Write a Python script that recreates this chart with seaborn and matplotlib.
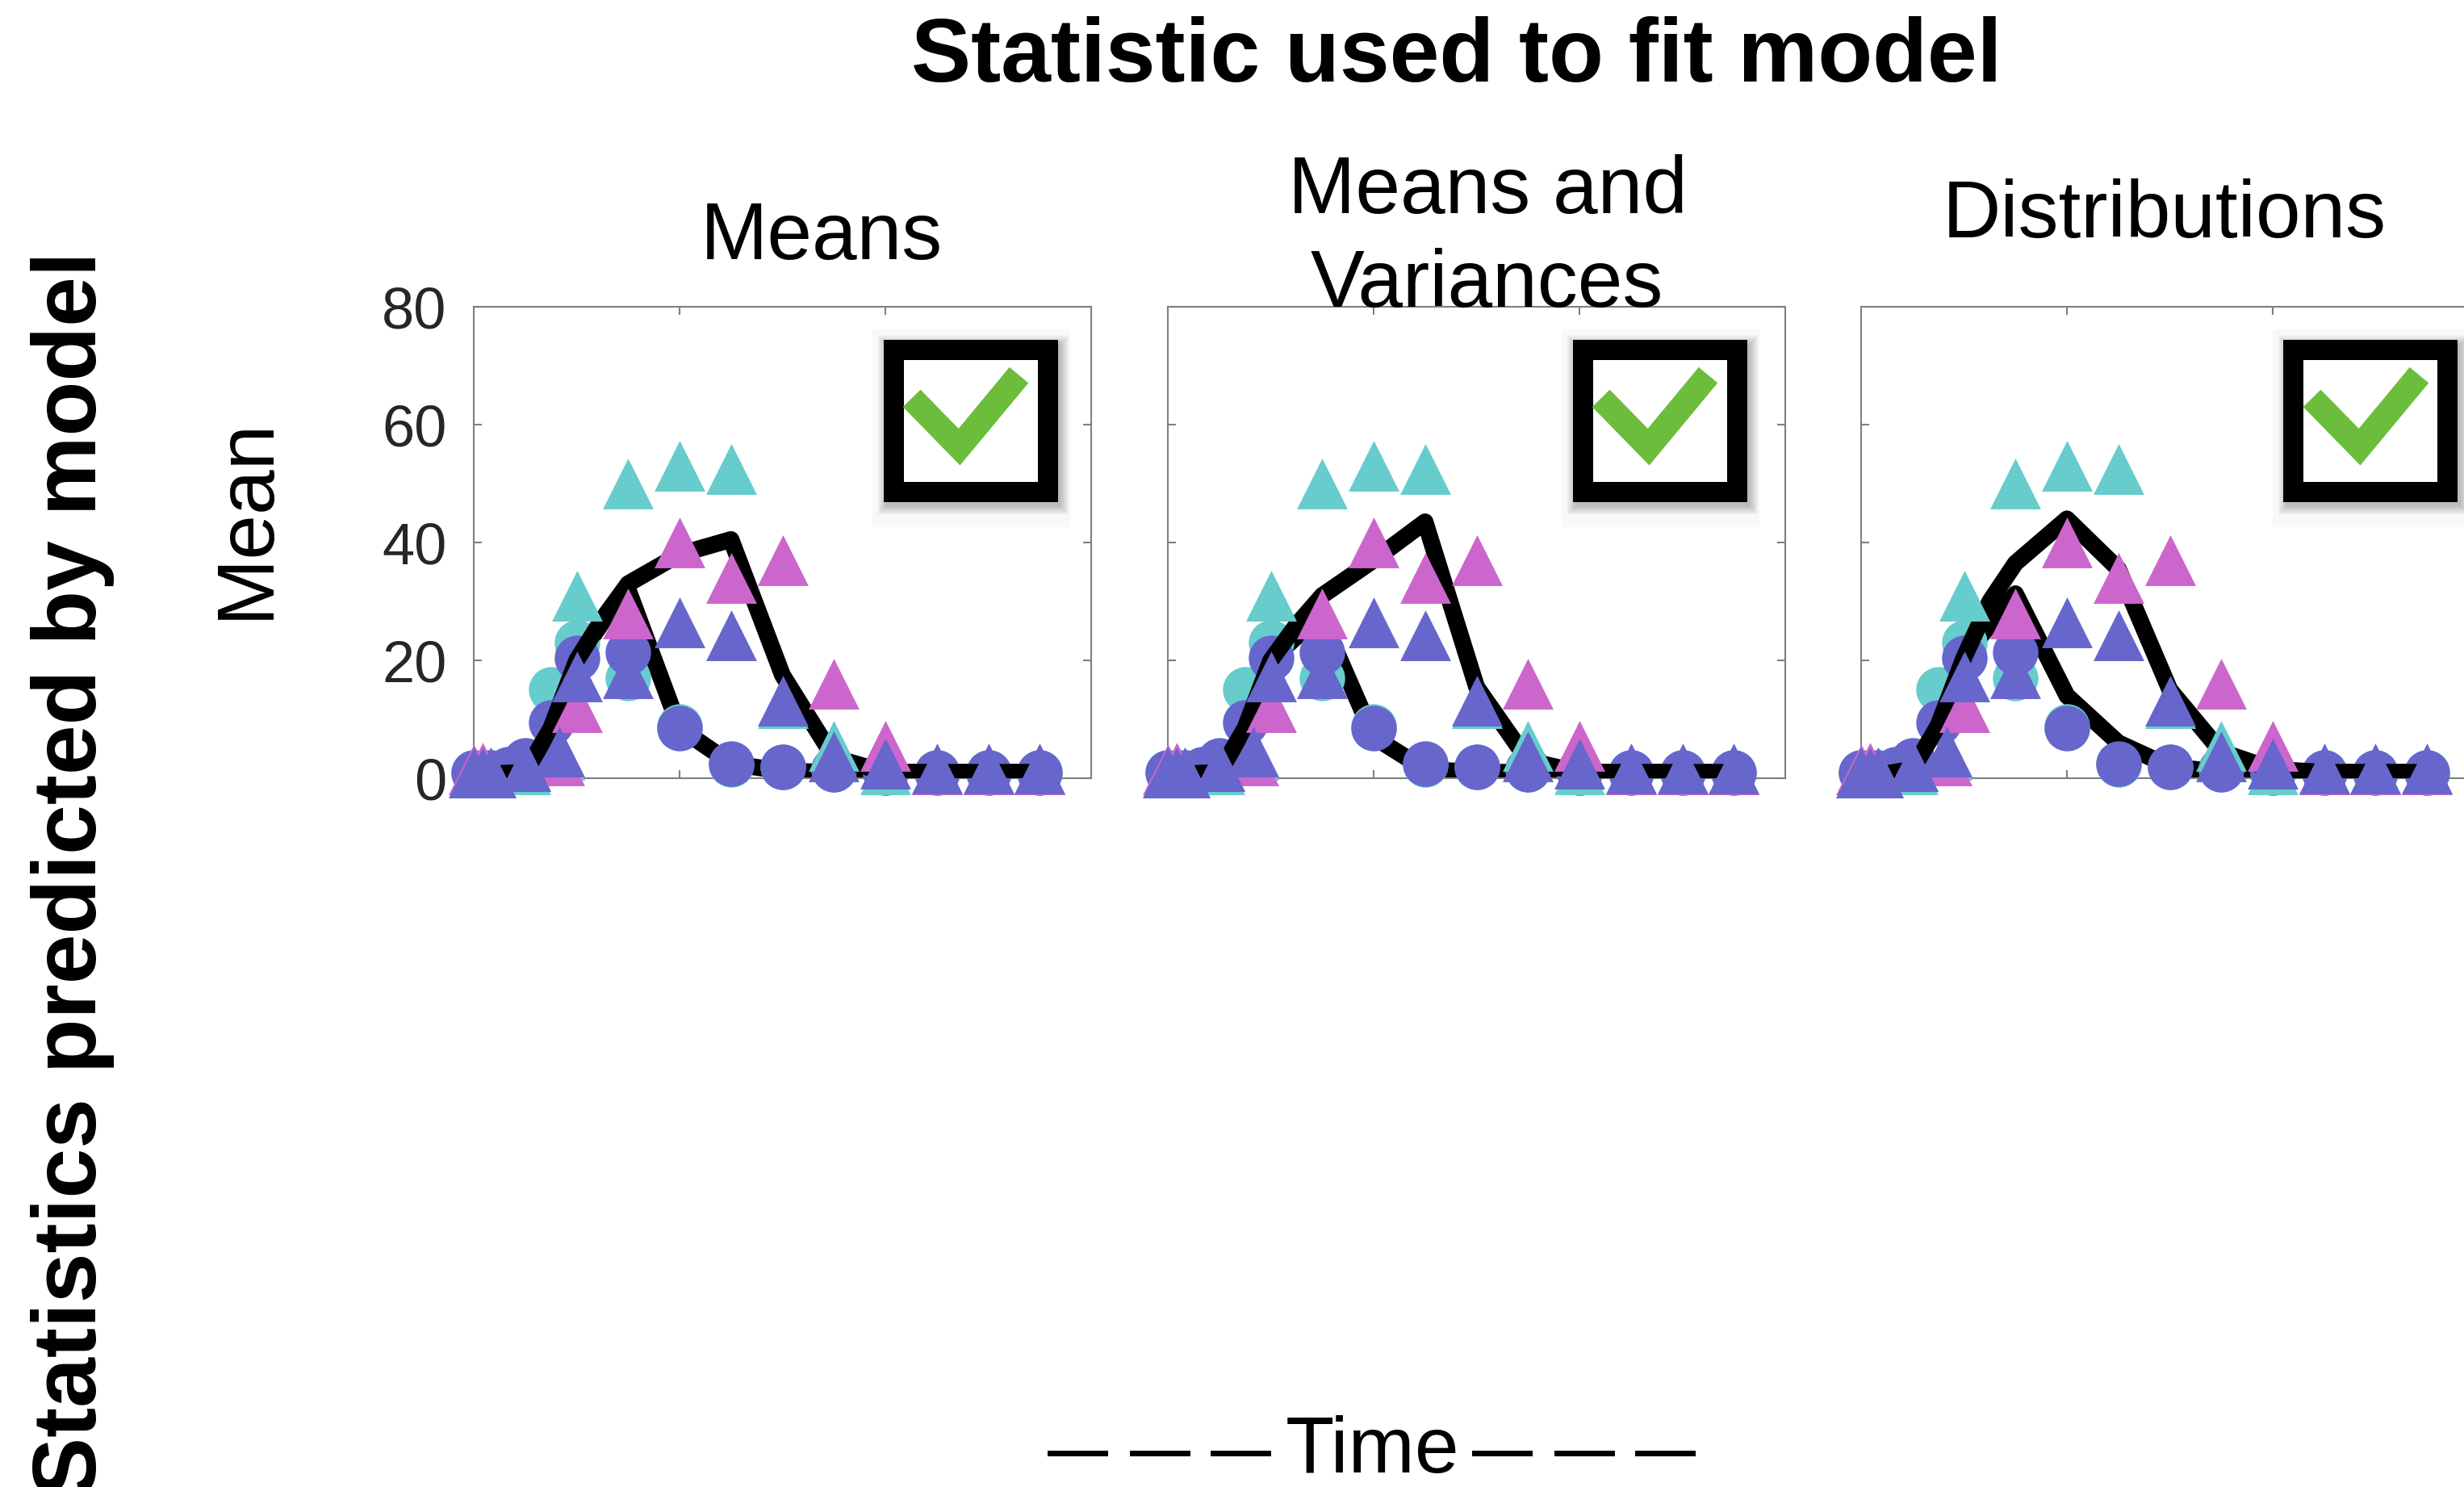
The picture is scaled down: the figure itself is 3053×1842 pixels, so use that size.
import matplotlib
matplotlib.use("Agg")
import matplotlib.pyplot as plt
import seaborn as sns
from matplotlib.patches import Rectangle
from matplotlib.lines import Line2D

# ---------------- data ----------------
# sampling times (hours) of the measured statistics
t_circ = [0, 2, 4, 6, 9, 12, 18, 24, 30, 36, 42, 48, 54, 60, 66]
t_tri = [0, 1, 2, 6, 10, 12, 18, 24, 30, 36, 42, 48, 54, 60, 66]

# measured means, circles
cyan_circ = [1, 1, 1.5, 2.5, 15, 23, 17, 8.7, 2.3, 1.9, 1.5, 1, 1, 1, 1]
purple_circ = [1, 1, 1.5, 3, 9.5, 20.4, 21.4, 8.5, 2.4, 1.9, 1.5, 1, 1, 1, 1]

# measured means, triangles
cyan_tri = [1, 1, 1, 1.5, 4, 31, 50, 53, 52.5, 12.7, 5.5, 1.5, 1.5, 1.5, 1.5]
magenta_tri = [1.5, 1.8, 1, 2, 3, 12, 28, 40, 34, 37, 16, 5.5, 1.5, 1.5, 1.5]
purple_tri = [1, 1, 1, 2, 4.5, 17.3, 17.8, 26.5, 24.3, 13.2, 3.7, 2.5, 1.7, 1.7, 1.7]

# model predictions of the mean (hours)
fit_t = [0, 3, 6, 9, 12, 15, 18, 24, 30, 36, 42, 48, 54, 60, 66]
means_fit_early = [0.8, 0.8, 1, 8.5, 20, 26.5, 32, 8.5, 2.5, 1.2, 1, 1, 1, 1, 1]
means_fit_late = [0.8, 0.8, 1, 8.5, 20, 27, 33, 38, 40.5, 17.5, 3.5, 1, 1, 1, 1]
meanvar_fit_early = [0.8, 0.8, 1, 8.5, 20, 24, 27, 7, 1.5, 1, 1, 1, 1, 1, 1]
meanvar_fit_late = [0.8, 0.8, 1, 8.5, 20, 26, 31, 37, 43.5, 15.5, 3, 1, 1, 1, 1]
dist_fit_early = [0.8, 0.8, 1.5, 9, 20.5, 26, 31.3, 14, 6, 2, 1, 1, 1, 1, 1]
dist_fit_late = [0.8, 0.8, 1.5, 9, 20.5, 30, 36.5, 44, 35.5, 15, 4.5, 1.5, 1, 1, 1]

panel_titles = ["Means", "Means and", "Variances", "Distributions"]
y_ticks = [0, 20, 40, 60, 80]
x_ticks = [24, 48]

# ---------------- style ----------------
sns.set_style("white")
plt.rcParams["font.family"] = ["Liberation Sans", "DejaVu Sans"]
plt.rcParams["text.color"] = "black"

CYAN = "#66CCCC"
MAGENTA = "#CC66CC"
PURPLE = "#6666CC"
GREEN = "#6DBD3C"
SPINE = "#7f7f7f"

W, H, DPI = 3053, 1842, 100
fig = plt.figure(figsize=(W / DPI, H / DPI), dpi=DPI)
fig.patch.set_facecolor("white")

AX_W, AX_H = 765, 584
AX_TOP = 380
ax_lefts = [587, 1447, 2306]
box_lefts = [507, 501, 523]
BOX_TOP, BOX_W, BOX_H, BORDER = 40, 216, 201, 25

fits = [(means_fit_early, means_fit_late),
        (meanvar_fit_early, meanvar_fit_late),
        (dist_fit_early, dist_fit_late)]

CIRC_S = 1650
TRI_S = 2050
LINE_W = 15


def draw_checkbox(ax, x0, y0, w, h):
    fx = lambda px: px / AX_W
    fy = lambda py: 1 - py / AX_H
    common = dict(transform=ax.transAxes, clip_on=False)
    # faint backdrop of the badge
    ax.add_patch(Rectangle((fx(x0 - 13), fy(y0 + h + 32)), (w + 29) / AX_W,
                           (h + 44) / AX_H, facecolor="#f8f8f8",
                           edgecolor="none", zorder=5, **common))
    # soft drop shadow
    for k in range(6):
        g = 2 * k
        ax.add_patch(Rectangle((fx(x0 + 4 - g), fy(y0 + 6 + h + g)),
                               (w + 2 * g) / AX_W, (h + 2 * g) / AX_H,
                               facecolor="black", alpha=0.045,
                               edgecolor="none", zorder=6, **common))
    # white face with thick black border
    ax.add_patch(Rectangle((fx(x0 + BORDER / 2), fy(y0 + h - BORDER / 2)),
                           (w - BORDER) / AX_W, (h - BORDER) / AX_H,
                           facecolor="white", edgecolor="black",
                           linewidth=BORDER * 72 / DPI, joinstyle="miter",
                           zorder=7, **common))
    # green tick mark
    pts = [(0.165, 0.365), (0.438, 0.665), (0.78, 0.222)]
    xs = [fx(x0 + px * w) for px, _ in pts]
    ys = [fy(y0 + py * h) for _, py in pts]
    ax.add_line(Line2D(xs, ys, color=GREEN, linewidth=22,
                       solid_joinstyle="miter", solid_capstyle="butt",
                       zorder=8, **common))


for i in range(3):
    ax = fig.add_axes([ax_lefts[i] / W, 1 - (AX_TOP + AX_H) / H,
                       AX_W / W, AX_H / H])
    ax.set_facecolor("white")

    early, late = fits[i]
    sns.lineplot(x=fit_t, y=early, color="black", linewidth=LINE_W,
                 estimator=None, sort=False, legend=False, ax=ax, zorder=2)

    sns.scatterplot(x=t_circ, y=cyan_circ, color=CYAN, marker="o", s=CIRC_S,
                    linewidth=0, legend=False, ax=ax, clip_on=False, zorder=3)
    sns.scatterplot(x=t_circ, y=purple_circ, color=PURPLE, marker="o", s=CIRC_S,
                    linewidth=0, legend=False, ax=ax, clip_on=False, zorder=3.1)

    sns.lineplot(x=fit_t, y=late, color="black", linewidth=LINE_W,
                 estimator=None, sort=False, legend=False, ax=ax, zorder=3.5)

    sns.scatterplot(x=t_tri, y=cyan_tri, color=CYAN, marker="^", s=TRI_S,
                    linewidth=0, legend=False, ax=ax, clip_on=False, zorder=4)
    sns.scatterplot(x=t_tri, y=magenta_tri, color=MAGENTA, marker="^", s=TRI_S,
                    linewidth=0, legend=False, ax=ax, clip_on=False, zorder=4.1)
    sns.scatterplot(x=t_tri, y=purple_tri, color=PURPLE, marker="^", s=TRI_S,
                    linewidth=0, legend=False, ax=ax, clip_on=False, zorder=4.2)

    ax.set_xlim(0, 72)
    ax.set_ylim(0, 80)
    ax.set_xticks(x_ticks)
    ax.set_yticks(y_ticks)
    ax.set_xlabel("")
    ax.set_ylabel("")
    for sp in ax.spines.values():
        sp.set_visible(True)
        sp.set_color(SPINE)
        sp.set_linewidth(1.5)
    ax.tick_params(direction="in", length=7, width=1.5, color=SPINE,
                   top=True, right=True, bottom=True, left=True,
                   labelbottom=False, labelleft=(i == 0),
                   labelsize=52, labelcolor="#262626", pad=24)

    draw_checkbox(ax, box_lefts[i], BOX_TOP, BOX_W, BOX_H)

# ---------------- text ----------------
fig.text(1805 / W, 1 - 101 / H, "Statistic used to fit model", ha="center",
         va="baseline", fontsize=80, fontweight="bold")
fig.text(90 / W, 1 - 311 / H, "Statistics predicted by model", rotation=90,
         ha="center", va="top", fontsize=80, fontweight="bold")
fig.text(306 / W, 1 - 642 / H, "Mean", rotation=90, ha="center", va="center",
         fontsize=72)

title_pos = [(1018, 321), (1843, 264), (1842, 380), (2682, 294)]
for label, (xp, yp) in zip(panel_titles, title_pos):
    fig.text(xp / W, 1 - yp / H, label, ha="center", va="baseline",
             fontsize=72)

fig.text(1701 / W, 1 - 1824 / H, "Time", ha="center", va="baseline",
         fontsize=71)
for xc in [1336, 1438, 1538, 1862, 1963, 2064]:
    fig.text(xc / W, 1 - 1820 / H, "\u2014", ha="center", va="baseline",
             fontsize=54, fontweight="bold")

fig.savefig("out.png", dpi=DPI, facecolor="white")
